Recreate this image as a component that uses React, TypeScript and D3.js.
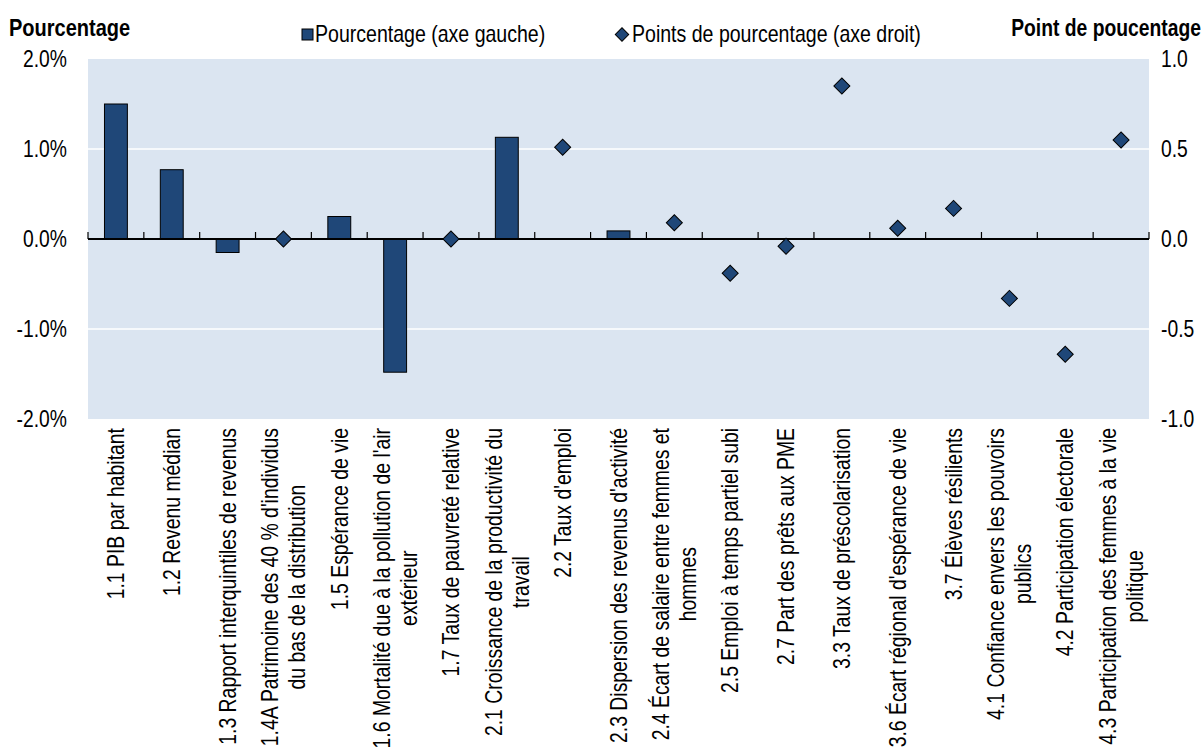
import React, { useRef, useEffect } from "react";
import * as d3 from "d3";

// category labels, already split into the lines shown under the axis
const categories: string[][] = [
  ["1.1 PIB par habitant"],
  ["1.2 Revenu médian"],
  ["1.3 Rapport interquintiles de revenus"],
  ["1.4A Patrimoine des 40 % d'individus", "du bas de la distribution"],
  ["1.5 Espérance de vie"],
  ["1.6 Mortalité due à la pollution de l'air", "extérieur"],
  ["1.7 Taux de pauvreté relative"],
  ["2.1 Croissance de la productivité du", "travail"],
  ["2.2 Taux d'emploi"],
  ["2.3 Dispersion des revenus d'activité"],
  ["2.4 Écart de salaire entre femmes et", "hommes"],
  ["2.5 Emploi à temps partiel subi"],
  ["2.7 Part des prêts aux PME"],
  ["3.3 Taux de préscolarisation"],
  ["3.6 Écart régional d'espérance de vie"],
  ["3.7 Élèves résilients"],
  ["4.1 Confiance envers les pouvoirs", "publics"],
  ["4.2 Participation électorale"],
  ["4.3 Participation des femmes à la vie", "politique"],
];

// Pourcentage (axe gauche)
const barValues: (number | null)[] = [
  1.5, 0.77, -0.15, null, 0.25, -1.48, null, 1.13, null, 0.09,
  null, null, null, null, null, null, null, null, null,
];

// Points de pourcentage (axe droit)
const pointValues: (number | null)[] = [
  null, null, null, 0, null, null, 0, null, 0.51, null,
  0.09, -0.19, -0.04, 0.85, 0.06, 0.17, -0.33, -0.64, 0.55,
];

const leftTicks = [2, 1, 0, -1, -2];
const rightTicks = [1, 0.5, 0, -0.5, -1];

const legendLabels = ["Pourcentage (axe gauche)", "Points de pourcentage (axe droit)"];
const leftTitle = "Pourcentage";
const rightTitle = "Point de poucentage";

const W = 1204;
const H = 753;
const margin = { top: 59, right: 55, bottom: 334, left: 88 };
const FONT = "'Liberation Sans', Arial, sans-serif";
const NAVY = "#1F4778";
const BG = "#DBE5F1";

const loc = d3.formatLocale({
  decimal: ".",
  thousands: ",",
  grouping: [3],
  currency: ["", ""],
  minus: "-",
});
const fmtLeft = (v: number) => loc.format(".1f")(v) + "%";
const fmtRight = loc.format(".1f");

type Sel = d3.Selection<any, unknown, null, undefined>;

// text drawn horizontally condensed around its anchor point (the original uses a narrow face)
function label(
  parent: Sel,
  x: number,
  y: number,
  s: string,
  anchor = "start",
  bold = false,
  squeeze = 0.84
) {
  const g = parent.append("g").attr("transform", `translate(${x},${y}) scale(${squeeze},1)`);
  g.append("text")
    .attr("text-anchor", anchor)
    .attr("font-weight", bold ? "bold" : null)
    .text(s);
  return g;
}

export default function App() {
  const svgRef = useRef<SVGSVGElement>(null);

  useEffect(() => {
    const svg = d3.select(svgRef.current!) as Sel;
    svg.selectAll("*").remove();

    const x0 = margin.left;
    const x1 = W - margin.right;
    const y0 = margin.top;
    const y1 = H - margin.bottom;

    const idx = categories.map((_, i) => String(i));
    const x = d3.scaleBand().domain(idx).range([x0, x1]).padding(0);
    const yL = d3.scaleLinear().domain([-2, 2]).range([y1, y0]);
    const yR = d3.scaleLinear().domain([-1, 1]).range([y1, y0]);
    const bw = x.bandwidth() * 0.41;
    const cx = (i: number) => x(String(i))! + x.bandwidth() / 2;

    // plot background
    svg
      .append("rect")
      .attr("x", x0)
      .attr("y", y0)
      .attr("width", x1 - x0)
      .attr("height", y1 - y0)
      .attr("fill", BG);

    // gridlines
    svg
      .append("g")
      .selectAll("line")
      .data(leftTicks.filter((t) => t !== 0 && Math.abs(t) !== 2))
      .join("line")
      .attr("x1", x0)
      .attr("x2", x1)
      .attr("y1", (d) => yL(d))
      .attr("y2", (d) => yL(d))
      .attr("stroke", "#fff")
      .attr("stroke-width", 1.5);

    // bars
    svg
      .append("g")
      .selectAll("rect")
      .data(barValues.map((v, i) => ({ v, i })).filter((d) => d.v !== null))
      .join("rect")
      .attr("x", (d) => cx(d.i) - bw / 2)
      .attr("width", bw)
      .attr("y", (d) => yL(Math.max(0, d.v as number)))
      .attr("height", (d) => Math.abs(yL(d.v as number) - yL(0)))
      .attr("fill", NAVY)
      .attr("stroke", "#000")
      .attr("stroke-width", 1);

    // zero line + category ticks
    svg
      .append("line")
      .attr("x1", x0)
      .attr("x2", x1)
      .attr("y1", yL(0))
      .attr("y2", yL(0))
      .attr("stroke", "#000")
      .attr("stroke-width", 2);

    const bounds = d3.range(categories.length + 1).map((i) => x0 + i * x.bandwidth());
    svg
      .append("g")
      .selectAll("line")
      .data(bounds)
      .join("line")
      .attr("x1", (d) => d)
      .attr("x2", (d) => d)
      .attr("y1", yL(0))
      .attr("y2", yL(0) - 7)
      .attr("stroke", "#000")
      .attr("stroke-width", 1.2);

    // diamonds
    const diamond = d3.symbol(d3.symbolSquare, 128)();
    svg
      .append("g")
      .selectAll("path")
      .data(pointValues.map((v, i) => ({ v, i })).filter((d) => d.v !== null))
      .join("path")
      .attr("d", diamond)
      .attr("transform", (d) => `translate(${cx(d.i)},${yR(d.v as number)}) rotate(45)`)
      .attr("fill", NAVY)
      .attr("stroke", "#000")
      .attr("stroke-width", 1);

    // axis labels
    leftTicks.forEach((t) => label(svg, 67, yL(t) + 8, fmtLeft(t), "end"));
    rightTicks.forEach((t) => label(svg, 1161, yR(t) + 8, fmtRight(t), "start"));

    // category labels, rotated, top anchored
    const lineH = 27;
    const labelTop = y1 + 9;
    categories.forEach((lines, i) => {
      const g = svg
        .append("g")
        .attr("transform", `translate(${cx(i)},${labelTop}) rotate(-90) scale(0.825,1)`)
        .attr("font-size", 23.5);
      const off = -((lines.length - 1) * lineH) / 2;
      const first = g
        .append("text")
        .attr("x", 0)
        .attr("y", off)
        .attr("dy", "0.35em")
        .attr("text-anchor", "end")
        .text(lines[0]);
      if (lines.length > 1) {
        const len = (first.node() as SVGTextElement).getComputedTextLength();
        lines.slice(1).forEach((ln, j) => {
          g.append("text")
            .attr("x", -len / 2)
            .attr("y", off + (j + 1) * lineH)
            .attr("dy", "0.35em")
            .attr("text-anchor", "middle")
            .text(ln);
        });
      }
    });

    // titles
    label(svg, 9, 36, leftTitle, "start", true, 0.87);
    label(svg, 1201, 36, rightTitle, "end", true, 0.84);

    // legend
    svg
      .append("rect")
      .attr("x", 302)
      .attr("y", 29)
      .attr("width", 11)
      .attr("height", 11)
      .attr("fill", NAVY)
      .attr("stroke", "#000")
      .attr("stroke-width", 1);
    label(svg, 315, 42, legendLabels[0], "start", false, 0.85);
    svg
      .append("path")
      .attr("d", d3.symbol(d3.symbolSquare, 90)())
      .attr("transform", "translate(622,34.5) rotate(45)")
      .attr("fill", NAVY)
      .attr("stroke", "#000")
      .attr("stroke-width", 1);
    label(svg, 632, 42, legendLabels[1], "start", false, 0.85);
  }, []);

  return (
    <svg
      ref={svgRef}
      width={W}
      height={H}
      style={{ position: "absolute", left: 0, top: 0, background: "#fff" }}
      fontFamily={FONT}
      fontSize={23}
      fill="#000"
    />
  );
}
